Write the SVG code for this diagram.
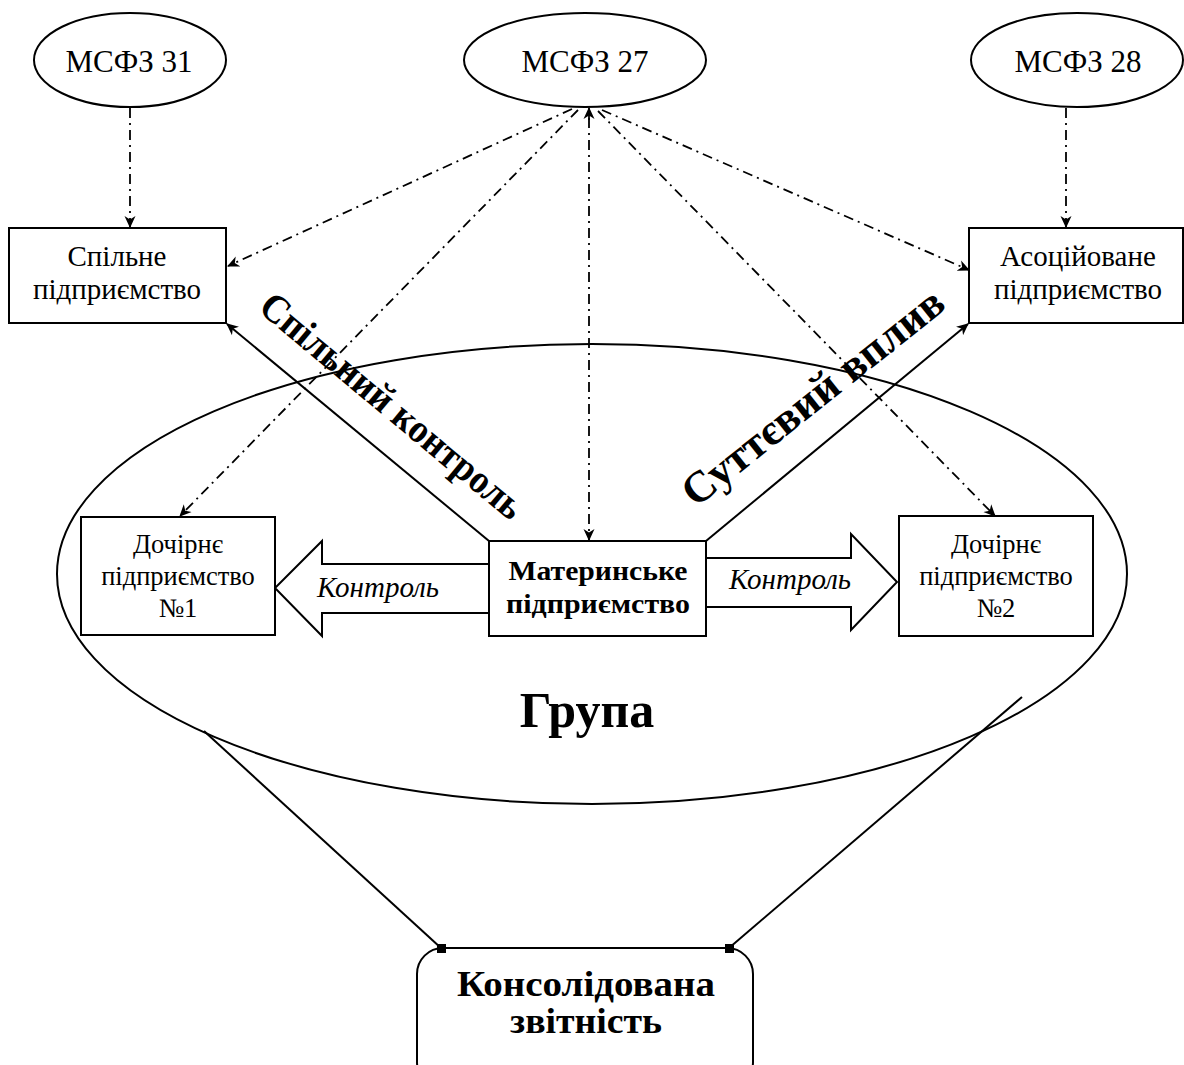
<svg xmlns="http://www.w3.org/2000/svg" width="1184" height="1065" viewBox="0 0 1184 1065">
<style>
.shape{fill:#fff;stroke:#000;stroke-width:2}
.t{font-family:"Liberation Serif","Times New Roman",serif;fill:#000;text-anchor:middle}
.dd{fill:none;stroke:#000;stroke-width:1.8;stroke-dasharray:10 5 2 5}
.sl{fill:none;stroke:#000;stroke-width:2}
</style>
<defs>
<marker id="ah" viewBox="0 0 12 12" refX="11" refY="6" markerWidth="12" markerHeight="12" markerUnits="userSpaceOnUse" orient="auto">
<path d="M0,0.5 L12,6 L0,11.5 L3.5,6 z" fill="#000"/>
</marker>
</defs>
<rect width="1184" height="1065" fill="#fff"/>

<g id="group-ellipse">
<ellipse cx="592" cy="574" rx="535" ry="230" fill="none" stroke="#000" stroke-width="2"/>
<text class="t" x="587" y="727" font-size="50" font-weight="bold">Група</text>
</g>

<g id="connectors">
<line class="dd" x1="130" y1="108" x2="130" y2="227" marker-end="url(#ah)"/>
<line class="dd" x1="1066" y1="108" x2="1066" y2="227" marker-end="url(#ah)"/>
<line class="dd" x1="572" y1="109" x2="228" y2="266" marker-end="url(#ah)"/>
<line class="dd" x1="578" y1="110" x2="180" y2="516" marker-end="url(#ah)"/>
<line class="dd" x1="589" y1="118" x2="589" y2="540" marker-end="url(#ah)"/>
<line class="dd" x1="589" y1="120" x2="589" y2="108" marker-end="url(#ah)" style="stroke-dasharray:none"/>
<line class="dd" x1="598" y1="111" x2="995" y2="516" marker-end="url(#ah)"/>
<line class="dd" x1="602" y1="110" x2="969" y2="270" marker-end="url(#ah)"/>
<line class="sl" x1="489" y1="541" x2="227" y2="324" marker-end="url(#ah)"/>
<line class="sl" x1="706" y1="541" x2="968" y2="324" marker-end="url(#ah)"/>
<line class="sl" x1="204" y1="731" x2="441" y2="948"/>
<line class="sl" x1="1022" y1="697" x2="729" y2="948"/>
<polygon class="shape" points="489,564 322,564 322,541 275,588 322,636 322,613 489,613"/>
<polygon class="shape" points="706,558 851,558 851,534 897,582 851,630 851,607 706,607"/>
<text class="t" x="378" y="597" font-size="29" font-style="italic">Контроль</text>
<text class="t" x="790" y="589" font-size="29" font-style="italic">Контроль</text>
<text class="t" font-size="40" font-weight="bold" transform="translate(392,406) rotate(39.8)" y="13" textLength="330" lengthAdjust="spacingAndGlyphs">Спільний контроль</text>
<text class="t" font-size="44" font-weight="bold" transform="translate(813,397) rotate(-38.5)" y="14" textLength="322" lengthAdjust="spacingAndGlyphs">Суттєвий вплив</text>
</g>

<g id="msfz31">
<ellipse class="shape" cx="130" cy="60" rx="96" ry="47"/>
<text class="t" x="129" y="72" font-size="31">МСФЗ 31</text>
</g>
<g id="msfz27">
<ellipse class="shape" cx="585" cy="60" rx="121" ry="47"/>
<text class="t" x="585" y="72" font-size="31">МСФЗ 27</text>
</g>
<g id="msfz28">
<ellipse class="shape" cx="1077" cy="60" rx="106" ry="47"/>
<text class="t" x="1078" y="72" font-size="31">МСФЗ 28</text>
</g>

<g id="joint">
<rect class="shape" x="9" y="228" width="217" height="95"/>
<text class="t" x="117" y="266" font-size="29">Спільне</text>
<text class="t" x="117" y="299" font-size="29">підприємство</text>
</g>
<g id="associate">
<rect class="shape" x="969" y="228" width="214" height="95"/>
<text class="t" x="1078" y="266" font-size="29">Асоційоване</text>
<text class="t" x="1078" y="299" font-size="29">підприємство</text>
</g>
<g id="sub1">
<rect class="shape" x="81" y="517" width="194" height="118"/>
<text class="t" x="178" y="553" font-size="26.5">Дочірнє</text>
<text class="t" x="178" y="585" font-size="26.5">підприємство</text>
<text class="t" x="178" y="617" font-size="26.5">№1</text>
</g>
<g id="parent">
<rect class="shape" x="489" y="541" width="217" height="95"/>
<text class="t" x="598" y="580" font-size="27" font-weight="bold" textLength="179" lengthAdjust="spacingAndGlyphs">Материнське</text>
<text class="t" x="598" y="613" font-size="27" font-weight="bold" textLength="184" lengthAdjust="spacingAndGlyphs">підприємство</text>
</g>
<g id="sub2">
<rect class="shape" x="899" y="516" width="194" height="120"/>
<text class="t" x="996" y="553" font-size="26.5">Дочірнє</text>
<text class="t" x="996" y="585" font-size="26.5">підприємство</text>
<text class="t" x="996" y="617" font-size="26.5">№2</text>
</g>
<g id="consolidated">
<rect class="shape" x="417" y="948" width="336" height="140" rx="26" ry="26"/>
<rect x="437" y="944" width="9" height="9" fill="#000"/>
<rect x="725" y="944" width="9" height="9" fill="#000"/>
<text class="t" x="586" y="996" font-size="35" font-weight="bold" textLength="258" lengthAdjust="spacingAndGlyphs">Консолідована</text>
<text class="t" x="586" y="1033" font-size="35" font-weight="bold" textLength="152" lengthAdjust="spacingAndGlyphs">звітність</text>
</g>
</svg>
